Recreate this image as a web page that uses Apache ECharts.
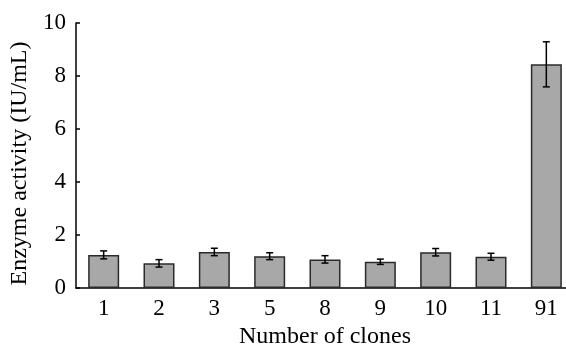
<!DOCTYPE html>
<html><head><meta charset="utf-8">
<script src="https://cdn.jsdelivr.net/npm/echarts@6/dist/echarts.min.js"></script>
<style>html,body{margin:0;padding:0;background:#fff;overflow:hidden}#c{width:566px;height:344px}</style>
</head><body><div id="c"></div>
<script>
var categories = ['1','2','3','5','8','9','10','11','91'];
var activity = [1.25, 0.93, 1.36, 1.20, 1.08, 0.99, 1.35, 1.18, 8.44];
var errors = [0.15, 0.14, 0.14, 0.13, 0.14, 0.10, 0.14, 0.13, 0.85];
var yTicks = [0, 2, 4, 6, 8, 10];

var FONT = '"Liberation Serif","Times New Roman",serif';
var chart = echarts.init(document.getElementById('c'), null, {renderer:'canvas'});
var errData = categories.map(function(c, i){ return [i, activity[i] - errors[i], activity[i] + errors[i]]; });
chart.setOption({
  animation: false,
  backgroundColor: '#fff',
  grid: {left: 76, top: 23, width: 498, height: 265, containLabel: false, outerBoundsMode: 'none'},
  xAxis: {
    type: 'category', data: categories,
    name: 'Number of clones', nameLocation: 'middle', nameGap: 33,
    nameTextStyle: {fontFamily: FONT, fontSize: 24, color: '#000'},
    axisLine: {lineStyle: {color: '#000', width: 1.5}},
    axisTick: {inside: true, length: 5, lineStyle: {color: '#000', width: 1.5}},
    axisLabel: {fontFamily: FONT, fontSize: 23, color: '#000', margin: 9}
  },
  yAxis: {
    type: 'value', min: 0, max: 10, interval: 2,
    name: 'Enzyme activity (IU/mL)', nameLocation: 'middle', nameGap: 37,
    nameTextStyle: {fontFamily: FONT, fontSize: 24, color: '#000', padding: [0, 16, 0, 0]},
    axisLine: {show: true, lineStyle: {color: '#000', width: 1.5}},
    axisTick: {show: true, inside: true, length: 4, lineStyle: {color: '#000', width: 1.5}},
    splitLine: {show: false},
    axisLabel: {fontFamily: FONT, fontSize: 23, color: '#000', margin: 10,
      formatter: function(v){ return yTicks.indexOf(v) >= 0 ? String(v) : ''; }}
  },
  series: [
    {type: 'bar', data: activity, barWidth: 31,
     itemStyle: {color: '#a8a8a8', borderColor: '#2a2a2a', borderWidth: 1.5}},
    {type: 'custom', data: errData, z: 10,
     renderItem: function(params, api){
       var x = api.value(0);
       var lo = api.coord([x, api.value(1)]);
       var hi = api.coord([x, api.value(2)]);
       var hw = 3.5;
       var st = {stroke: '#000', lineWidth: 1.5};
       return {type: 'group', children: [
         {type: 'line', shape: {x1: lo[0], y1: lo[1], x2: hi[0], y2: hi[1]}, style: st},
         {type: 'line', shape: {x1: lo[0]-hw, y1: lo[1], x2: lo[0]+hw, y2: lo[1]}, style: st},
         {type: 'line', shape: {x1: hi[0]-hw, y1: hi[1], x2: hi[0]+hw, y2: hi[1]}, style: st}
       ]};
     }}
  ]
});
</script></body></html>
